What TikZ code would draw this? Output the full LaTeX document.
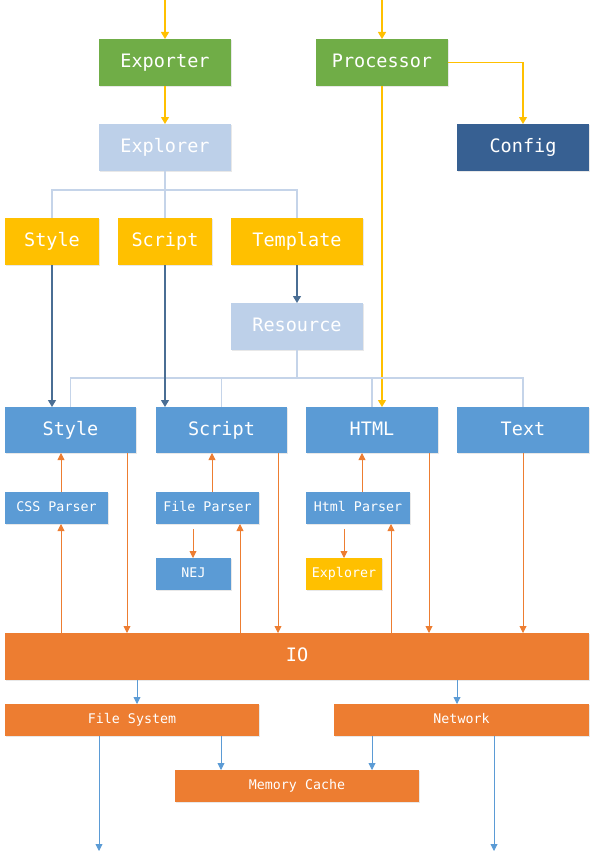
\documentclass[tikz,border=0pt]{standalone}
\usepackage{fontspec}
\newfontfamily\dmono{DejaVu Sans Mono}
\usetikzlibrary{arrows.meta,calc,shadows}
\definecolor{cgreen}{HTML}{70AD47}
\definecolor{clight}{HTML}{BDD0E9}
\definecolor{cdark}{HTML}{376092}
\definecolor{cyellow}{HTML}{FFC000}
\definecolor{cblue}{HTML}{5B9BD5}
\definecolor{corange}{HTML}{ED7D31}
\definecolor{ldark}{HTML}{4A6E94}
\definecolor{ltree}{HTML}{C5D4E9}
\definecolor{lblue}{HTML}{5B9BD5}
\tikzset{
  boxbase/.style={rectangle, inner sep=0pt, outer sep=0pt, text=white,
    drop shadow={shadow xshift=0.8pt,shadow yshift=-0.8pt,opacity=0.18}},
  bigbox/.style={boxbase, font=\dmono\fontsize{18.5}{22}\selectfont,
    text height=13.5pt, text depth=3.5pt},
  smallbox/.style={boxbase, font=\dmono\fontsize{13.3}{16}\selectfont,
    text height=9.7pt, text depth=2.6pt},
  yarrow/.style={draw=cyellow, line width=1.1pt, -{Triangle[width=8pt,length=7pt]}},
  darrow/.style={draw=ldark, line width=1.1pt, -{Triangle[width=8pt,length=7pt]}},
  treeline/.style={draw=ltree, line width=1.1pt},
  oarrow/.style={draw=corange, line width=0.9pt, -{Triangle[width=7pt,length=7pt]}},
  barrow/.style={draw=lblue, line width=0.9pt, -{Triangle[width=7pt,length=7pt]}},
}
\begin{document}
\begin{tikzpicture}[x=1pt,y=-1pt]
\useasboundingbox (0,0) rectangle (595,851);
% top row
\node[bigbox, fill=cgreen, minimum width=132pt, minimum height=47pt] (exporter) at (165,62.5) {Exporter};
\node[bigbox, fill=cgreen, minimum width=132pt, minimum height=47pt] (processor) at (382,62.5) {Processor};
\node[bigbox, fill=cdark, minimum width=132pt, minimum height=47pt] (config) at (523,147.5) {Config};
\node[bigbox, fill=clight, minimum width=132pt, minimum height=47pt] (explorer) at (165,147.5) {Explorer};
% yellow row
\node[bigbox, fill=cyellow, minimum width=94pt, minimum height=47pt] (styleY) at (52,241.5) {Style};
\node[bigbox, fill=cyellow, minimum width=94pt, minimum height=47pt] (scriptY) at (165,241.5) {Script};
\node[bigbox, fill=cyellow, minimum width=132pt, minimum height=47pt] (template) at (297,241.5) {Template};
\node[bigbox, fill=clight, minimum width=132pt, minimum height=47pt] (resource) at (297,326.5) {Resource};
% blue row
\node[bigbox, fill=cblue, minimum width=131pt, minimum height=46pt] (style2) at (70.5,430) {Style};
\node[bigbox, fill=cblue, minimum width=131pt, minimum height=46pt] (script2) at (221.5,430) {Script};
\node[bigbox, fill=cblue, minimum width=132pt, minimum height=46pt] (html) at (372,430) {HTML};
\node[bigbox, fill=cblue, minimum width=132pt, minimum height=46pt] (text) at (523,430) {Text};
% parsers
\node[smallbox, fill=cblue, minimum width=103pt, minimum height=32pt] (css) at (56.5,508) {CSS Parser};
\node[smallbox, fill=cblue, minimum width=103pt, minimum height=32pt] (fileparser) at (207.5,508) {File Parser};
\node[smallbox, fill=cblue, minimum width=104pt, minimum height=32pt] (htmlparser) at (358,508) {Html Parser};
\node[smallbox, fill=cblue, minimum width=75pt, minimum height=32pt] (nej) at (193.5,574) {NEJ};
\node[smallbox, fill=cyellow, minimum width=76pt, minimum height=32pt] (explorer2) at (344,574) {Explorer};
% IO
\node[bigbox, fill=corange, minimum width=584pt, minimum height=47pt] (io) at (297,656.5) {IO};
\node[smallbox, fill=corange, minimum width=254pt, minimum height=32pt] (fs) at (132,720) {File System};
\node[smallbox, fill=corange, minimum width=255pt, minimum height=32pt] (net) at (461.5,720) {Network};
\node[smallbox, fill=corange, minimum width=244pt, minimum height=32pt] (mem) at (297,786) {Memory Cache};
% free ends
\coordinate (in1) at (165,0);
\coordinate (in2) at (382,0);
\coordinate (out1) at (99,851);
\coordinate (out2) at (494,851);
\coordinate (j1) at (165,190);
\coordinate (j2) at (297,378);
% yellow arrows
\draw[yarrow] (in1) -- (exporter.north);
\draw[yarrow] (in2) -- (processor.north);
\draw[yarrow] (exporter.south) -- (explorer.north);
\draw[yarrow] (processor.east) -| (config.north);
\draw[yarrow] (processor.south) -- (processor.south |- html.north);
% trees
\draw[treeline] (explorer.south) -- (j1);
\draw[treeline] (styleY.north) |- (j1) -| (template.north);
\draw[treeline] (j1) -- (scriptY.north);
\draw[treeline] (resource.south) -- (j2);
\draw[treeline] (style2.north) |- (j2) -| (text.north);
\draw[treeline] (script2.north |- j2) -- (script2.north);
\draw[treeline] (html.north |- j2) -- (html.north);
% dark arrows
\draw[darrow] (template.south) -- (resource.north);
\draw[darrow] (styleY.south) -- (styleY.south |- style2.north);
\draw[darrow] (scriptY.south) -- (scriptY.south |- script2.north);
% orange arrows
\draw[oarrow] (61,0 |- css.north) -- (61,0 |- style2.south);
\draw[oarrow] (61,0 |- io.north) -- (61,0 |- css.south);
\draw[oarrow] (127,0 |- style2.south) -- (127,0 |- io.north);
\draw[oarrow] (212,0 |- fileparser.north) -- (212,0 |- script2.south);
\draw[oarrow] ($(193,0 |- fileparser.south)+(0,5)$) -- (193,0 |- nej.north);
\draw[oarrow] (240,0 |- io.north) -- (240,0 |- fileparser.south);
\draw[oarrow] (278,0 |- script2.south) -- (278,0 |- io.north);
\draw[oarrow] (362,0 |- htmlparser.north) -- (362,0 |- html.south);
\draw[oarrow] ($(344,0 |- htmlparser.south)+(0,5)$) -- (344,0 |- explorer2.north);
\draw[oarrow] (391,0 |- io.north) -- (391,0 |- htmlparser.south);
\draw[oarrow] (429,0 |- html.south) -- (429,0 |- io.north);
\draw[oarrow] (text.south) -- (text.south |- io.north);
% blue arrows
\draw[barrow] (137,0 |- io.south) -- (137,0 |- fs.north);
\draw[barrow] (457,0 |- io.south) -- (457,0 |- net.north);
\draw[barrow] (221,0 |- fs.south) -- (221,0 |- mem.north);
\draw[barrow] (372,0 |- net.south) -- (372,0 |- mem.north);
\draw[barrow] (99,0 |- fs.south) -- (out1);
\draw[barrow] (494,0 |- net.south) -- (out2);
\end{tikzpicture}
\end{document}
